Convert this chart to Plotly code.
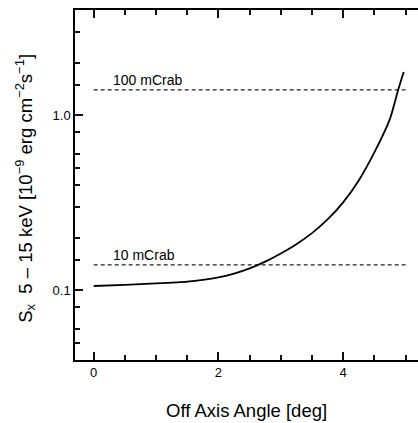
import math
import plotly.graph_objects as go

# Data
angle_deg = [0.0, 0.5, 1.0, 1.5, 1.75, 2.0, 2.25, 2.5, 2.75, 3.0, 3.25, 3.5, 3.75, 4.0, 4.25, 4.5, 4.75, 4.88, 4.97]
flux = [0.1059, 0.1076, 0.1096, 0.1122, 0.1148, 0.1186, 0.1245, 0.1334, 0.1459, 0.1626, 0.1837,
        0.2123, 0.2541, 0.3184, 0.4246, 0.6138, 0.955, 1.39, 1.77]

ref_levels = [1.4, 0.14]
ref_labels = ["100 mCrab", "10 mCrab"]
ref_x = [0.0, 5.0]

x_major = [0, 2, 4]
x_major_text = ["0", "2", "4"]
x_minor = [0.5, 1.0, 1.5, 2.5, 3.0, 3.5, 4.5, 5.0]
y_major = [0.1, 1.0]
y_major_text = ["0.1", "1.0"]
y_minor = [0.05, 0.06, 0.08, 0.15, 0.2, 0.3, 0.4, 0.5, 0.6, 0.8, 1.5, 2, 3]

X_RANGE = [-0.3, 5.2]
Y_RANGE = [math.log10(0.04), math.log10(4.0)]
FONT = "Liberation Sans, Arial, Helvetica, sans-serif"

fig = go.Figure()
for lvl in ref_levels:
    fig.add_trace(go.Scatter(x=ref_x, y=[lvl, lvl], mode="lines",
                             line=dict(color="#222222", width=1.2, dash="4px,3px"),
                             showlegend=False, hoverinfo="skip"))
fig.add_trace(go.Scatter(x=angle_deg, y=flux, mode="lines",
                         line=dict(color="black", width=1.8, shape="spline", smoothing=0.6),
                         showlegend=False))

for lvl, lab in zip(ref_levels, ref_labels):
    fig.add_annotation(x=0.28, y=math.log10(lvl), xref="x", yref="y", text=lab, showarrow=False,
                       xanchor="left", yanchor="bottom", yshift=0,
                       font=dict(family=FONT, size=14, color="black"))

fig.add_annotation(xref="paper", yref="paper", x=-0.145, y=0.49, textangle=-90,
                   text="S<sub>x</sub>  5 \u2013 15 keV [10<sup>\u22129</sup> erg cm<sup>\u22122</sup>s<sup>\u22121</sup>]",
                   showarrow=False, xanchor="center", yanchor="middle",
                   font=dict(family=FONT, size=18.5, color="black"))
fig.add_annotation(xref="paper", yref="paper", x=0.5, y=-0.143,
                   text="Off Axis Angle [deg]", showarrow=False,
                   xanchor="center", yanchor="middle",
                   font=dict(family=FONT, size=18.5, color="black"))

fig.update_layout(
    width=418, height=423,
    margin=dict(l=75, r=0, t=10, b=63),
    paper_bgcolor="white", plot_bgcolor="white",
    font=dict(family=FONT, color="black"),
    xaxis=dict(range=X_RANGE, showgrid=False, zeroline=False, showline=True,
               linecolor="black", linewidth=1.5, mirror="ticks",
               ticks="inside", ticklen=8, tickwidth=2, tickcolor="#111111",
               tickmode="array", tickvals=x_major, ticktext=x_major_text,
               tickfont=dict(family=FONT, size=13, color="black"),
               minor=dict(ticks="inside", ticklen=5, tickwidth=1.6, tickcolor="#111111",
                          tickmode="array", tickvals=x_minor, showgrid=False)),
    yaxis=dict(type="log", range=Y_RANGE, showgrid=False, zeroline=False, showline=True,
               linecolor="black", linewidth=1.5, mirror=False,
               ticks="inside", ticklen=8, tickwidth=2, tickcolor="#111111",
               tickmode="array", tickvals=y_major, ticktext=y_major_text,
               tickfont=dict(family=FONT, size=13, color="black"),
               minor=dict(ticks="inside", ticklen=5, tickwidth=1.6, tickcolor="#111111",
                          tickmode="array", tickvals=y_minor, showgrid=False)),
)

fig.write_html("out.html", config={"displayModeBar": False},
               post_script="document.body.style.margin='0px';document.body.style.overflow='hidden';")
